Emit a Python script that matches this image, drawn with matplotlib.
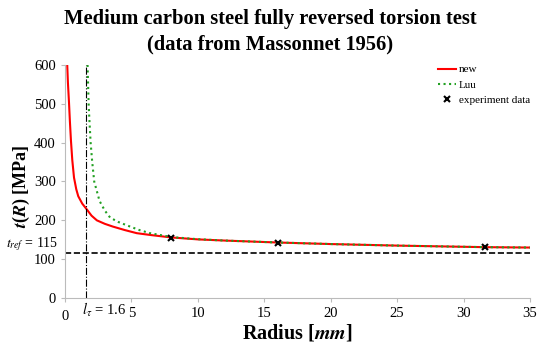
import matplotlib
matplotlib.use("Agg")
import matplotlib.pyplot as plt
import matplotlib.transforms as mtransforms

plt.rcParams['font.family'] = 'Liberation Serif'
plt.rcParams['mathtext.fontset'] = 'stix'

# model curve "new"
new_r = [0.17, 0.22, 0.3, 0.37, 0.45, 0.55, 0.68, 0.85, 1.0, 1.3, 1.6, 2.0,
         2.4, 3.0, 3.6, 4.5, 5.4, 6.5, 8.0, 10.0, 12.0, 16.0, 20.0, 25.0,
         31.6, 35.0]
new_t = [600, 555, 505, 455, 405, 355, 310, 280, 262, 243, 230, 212,
         200, 191, 184, 175, 167, 162, 156, 151, 148, 143, 139, 135,
         131, 130]

# Luu curve
luu_r = [1.7, 1.74, 1.78, 1.85, 1.93, 2.05, 2.2, 2.6, 3.0, 3.4, 4.0, 4.9,
         5.6, 6.4, 8.0, 10.0, 12.0, 16.0, 20.0, 25.0, 31.6, 35.0]
luu_t = [600, 550, 500, 450, 400, 350, 300, 250, 225, 207, 196, 184,
         175, 167, 157, 151.5, 148, 143, 139, 135, 131, 130]

# experiment data (Massonnet 1956)
exp_r = [8.0, 16.0, 31.6]
exp_t = [155, 142, 131]

t_ref = 115
l_tau = 1.6

fig = plt.figure(figsize=(5.37, 3.47), dpi=100)
ax = fig.add_axes([0.121, 0.141, 0.866, 0.672])

ax.plot(new_r, new_t, color='red', linewidth=1.5, label='new')
ax.plot(luu_r, luu_t, color='#22a022', linestyle=':', linewidth=1.5, label='Luu')
ax.plot(exp_r, exp_t, linestyle='none', marker='x', color='black',
        markersize=4, markeredgewidth=1.5, label='experiment data')

ax.axhline(t_ref, color='black', linestyle='--', linewidth=1.2)
ax.plot([l_tau, l_tau], [0, 600], color='black', linestyle='-.', linewidth=0.8)

ax.set_xlim(0, 35)
ax.set_ylim(0, 600)
ax.set_xticks(range(0, 36, 5))
ax.set_yticks(range(0, 601, 100))

for s in ['top', 'right']:
    ax.spines[s].set_visible(False)
for s in ['left', 'bottom']:
    ax.spines[s].set_color('#bbbbbb')
ax.tick_params(colors='#bbbbbb', labelcolor='black', labelsize=10.5, length=3)
# the "0" label sits a little lower in the original
lbl0 = ax.get_xticklabels()[0]
lbl0.set_transform(lbl0.get_transform() +
                   mtransforms.ScaledTranslation(0, -2 / 72, fig.dpi_scale_trans))

ax.text(-0.5, 139, r'$t_{ref}$ = 115', ha='right', va='center', fontsize=10)
ax.text(1.25, -6, r'$l_{\tau}$ = 1.6', ha='left', va='top', fontsize=10.5)

ax.set_xlabel(r'Radius [$\mathbfit{mm}$]', fontsize=14.5, fontweight='bold', labelpad=0)
ax.set_ylabel(r'$\mathbfit{t}$($\mathbfit{R}$) [MPa]', fontsize=13, fontweight='bold')
ax.yaxis.set_label_coords(-0.07, 0.48)
fig.suptitle('Medium carbon steel fully reversed torsion test\n(data from Massonnet 1956)',
             x=0.503, fontsize=14.8, fontweight='bold', y=0.975, linespacing=1.4)

ax.legend(loc='upper right', frameon=False, fontsize=8, handlelength=1.6,
          handletextpad=0.3, borderaxespad=0.0, labelspacing=0.5,
          bbox_to_anchor=(1.01, 1.02))

fig.savefig('out.png', dpi=100)
